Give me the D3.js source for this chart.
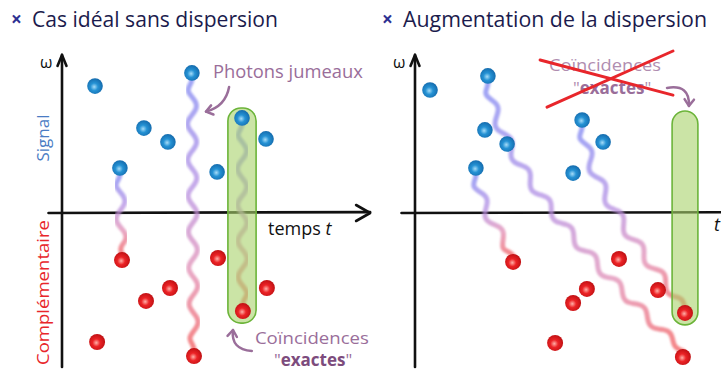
<!DOCTYPE html>
<html>
<head>
<meta charset="utf-8">
<script src="https://cdn.jsdelivr.net/npm/d3@7"></script>
<style>
  body { margin: 0; background: #fff; }
  svg { display: block; }
</style>
</head>
<body>
<div id="chart"></div>
<script>
// photons as [time t, frequency omega]; signal above the axis, complementary below
const leftSignal = [[1.10, 4.23], [4.33, 4.67], [2.73, 2.83], [3.53, 2.37], [1.93, 1.50], [5.17, 1.37], [6.00, 3.17], [6.80, 2.47]];
const leftIdler = [[2.00, -1.57], [5.20, -1.50], [2.80, -2.93], [3.60, -2.50], [6.83, -2.50], [6.03, -3.27], [1.17, -4.30], [4.40, -4.77]];
const rightSignal = [[0.50, 4.10], [2.43, 4.57], [2.33, 2.77], [3.07, 2.30], [2.03, 1.50], [5.27, 1.33], [5.57, 3.10], [6.27, 2.37]];
const rightIdler = [[3.27, -1.63], [6.80, -1.53], [5.73, -2.53], [5.27, -3.00], [8.10, -2.57], [9.00, -3.33], [4.67, -4.33], [8.93, -4.80]];
// twin photons: [signal index, idler index]
const twinPairs = [[4, 0], [1, 7], [6, 5]];
// coincidence window [t0, t1, omegaTop, omegaBottom]
const leftWindow = [5.53, 6.47, 3.50, -3.67];
const rightWindow = [8.57, 9.43, 3.40, -3.73];
const titles = ["Cas idéal sans dispersion", "Augmentation de la dispersion"];

const W = 721, H = 373;
const mauve = "#9a6e9a";

const svg = d3.select("#chart").append("svg")
  .attr("width", W).attr("height", H)
  .style("font-family", "'Open Sans', sans-serif");

const defs = svg.append("defs");
function ball(id, c0, c1, c2) {
  const g = defs.append("radialGradient").attr("id", id)
    .attr("cx", "45%").attr("cy", "55%").attr("r", "60%");
  g.append("stop").attr("offset", "0%").attr("stop-color", c0);
  g.append("stop").attr("offset", "40%").attr("stop-color", c1);
  g.append("stop").attr("offset", "100%").attr("stop-color", c2);
}
ball("blueBall", "#a6dcf8", "#2592d4", "#1266a8");
ball("redBall", "#ffb0a8", "#ec2326", "#b90d10");
defs.append("filter").attr("id", "soft")
  .append("feGaussianBlur").attr("stdDeviation", 1);

const panels = [
  { ox: 62, signal: leftSignal, idler: leftIdler, win: leftWindow, title: titles[0], tx: 32, tlen: 246, xEnd: 10.27 },
  { ox: 415, signal: rightSignal, idler: rightIdler, win: rightWindow, title: titles[1], tx: 403, tlen: 304, xEnd: 11.2 }
];

function wavePath(p0, p1) {
  const c = [p0[0] + (p1[0] - p0[0]) * 0.05, p0[1] + (p1[1] - p0[1]) * 0.35];
  const n = 120, pts = [];
  let len = 0, prev = p0;
  const base = d3.range(n + 1).map(i => {
    const u = i / n;
    const x = (1 - u) * (1 - u) * p0[0] + 2 * u * (1 - u) * c[0] + u * u * p1[0];
    const y = (1 - u) * (1 - u) * p0[1] + 2 * u * (1 - u) * c[1] + u * u * p1[1];
    return [x, y];
  });
  const L = d3.sum(base.slice(1), (p, i) => Math.hypot(p[0] - base[i][0], p[1] - base[i][1]));
  base.forEach((p, i) => {
    if (i > 0) len += Math.hypot(p[0] - prev[0], p[1] - prev[1]);
    const q = base[Math.min(i + 1, n)], r = base[Math.max(i - 1, 0)];
    const dx = q[0] - r[0], dy = q[1] - r[1], d = Math.hypot(dx, dy) || 1;
    const amp = 4.5 * Math.min(1, len / 12, (L - len) / 12);
    const a = amp * Math.sin(2 * Math.PI * len / 36);
    pts.push([p[0] - dy / d * a, p[1] + dx / d * a]);
    prev = p;
  });
  return d3.line().curve(d3.curveBasis)(pts);
}

function curvedArrow(g, x, y, p0, c, p1) {
  const a = [x(p0[0]), y(p0[1])], b = [x(c[0]), y(c[1])], e = [x(p1[0]), y(p1[1])];
  g.append("path")
    .attr("d", `M${a}Q${b} ${e}`)
    .attr("fill", "none").attr("stroke", mauve).attr("stroke-width", 2.5).attr("stroke-linecap", "round");
  const ang = Math.atan2(e[1] - b[1], e[0] - b[0]);
  const hd = [ang + Math.PI * 0.8, ang - Math.PI * 0.8].map(t => [e[0] + 8 * Math.cos(t), e[1] + 8 * Math.sin(t)]);
  g.append("path")
    .attr("d", `M${hd[0]}L${e}L${hd[1]}`)
    .attr("fill", "none").attr("stroke", mauve).attr("stroke-width", 2.5)
    .attr("stroke-linecap", "round").attr("stroke-linejoin", "round");
}

panels.forEach((p, k) => {
  const x = d3.scaleLinear().domain([0, 10]).range([p.ox, p.ox + 300]);
  const y = d3.scaleLinear().domain([-5, 5]).range([363, 63]);
  const g = svg.append("g");

  // title
  g.append("text").attr("x", p.tx - 21).attr("y", 26)
    .attr("font-size", 19).attr("font-weight", "bold").attr("fill", "#2e3192").text("×");
  g.append("text").attr("x", p.tx).attr("y", 27)
    .attr("font-size", 21).attr("fill", "#1b1b4d")
    .attr("textLength", p.tlen).attr("lengthAdjust", "spacingAndGlyphs")
    .text(p.title);

  // axes
  const ax = g.append("g").attr("stroke", "#111").attr("fill", "none")
    .attr("stroke-width", 2.6).attr("stroke-linecap", "round").attr("stroke-linejoin", "round");
  ax.append("line").attr("x1", x(0)).attr("x2", x(0)).attr("y1", y(-5.13)).attr("y2", y(5.27));
  ax.append("path").attr("d", `M${x(0) - 4.5},${y(5.27) + 11}L${x(0)},${y(5.27)}L${x(0) + 4.5},${y(5.27) + 11}`);
  ax.append("line").attr("x1", x(-0.45)).attr("x2", x(p.xEnd)).attr("y1", y(0)).attr("y2", y(0.03));
  ax.append("path").attr("d", `M${x(p.xEnd) - 14},${y(0) - 8}L${x(p.xEnd)},${y(0)}L${x(p.xEnd) - 14},${y(0) + 8}`);

  g.append("text").attr("x", x(0) - 22).attr("y", y(4.85))
    .attr("font-size", 16).attr("fill", "#111").text("ω");

  if (k === 0) {
    g.append("text").attr("transform", `translate(${x(-0.65)},${y(2.5)}) rotate(-90)`)
      .attr("text-anchor", "middle").attr("dominant-baseline", "central")
      .attr("font-size", 17).attr("fill", "#4a7cc4").text("Signal");
    g.append("text").attr("transform", `translate(${x(-0.65)},${y(-2.65)}) rotate(-90)`)
      .attr("text-anchor", "middle").attr("dominant-baseline", "central")
      .attr("font-size", 17).attr("fill", "#e8262b")
      .attr("textLength", 145).attr("lengthAdjust", "spacingAndGlyphs").text("Complémentaire");
    g.append("text").attr("x", x(6.87)).attr("y", y(-0.74))
      .attr("font-size", 18).attr("fill", "#111")
      .text("temps ").append("tspan").attr("font-style", "italic").text("t");
  } else {
    g.append("text").attr("x", x(9.97)).attr("y", y(-0.6))
      .attr("font-size", 18).attr("font-style", "italic").attr("fill", "#111").text("t");
  }

  // twin photon links
  twinPairs.forEach(([si, ii], j) => {
    const s = p.signal[si], r = p.idler[ii];
    const p0 = [x(s[0]), y(s[1]) + 6], p1 = [x(r[0]), y(r[1]) - 6];
    const id = `grad${k}${j}`;
    const lg = defs.append("linearGradient").attr("id", id).attr("gradientUnits", "userSpaceOnUse")
      .attr("x1", p0[0]).attr("y1", p0[1]).attr("x2", p1[0]).attr("y2", p1[1]);
    [[0, "#7f86f2"], [0.4, "#b48ee2"], [0.7, "#e08cb4"], [1, "#f25a5a"]].forEach(([o, c]) =>
      lg.append("stop").attr("offset", o).attr("stop-color", c));
    g.append("path").attr("d", wavePath(p0, p1))
      .attr("fill", "none").attr("stroke", `url(#${id})`)
      .attr("stroke-width", 5).attr("stroke-opacity", 0.75)
      .attr("stroke-linecap", "round").attr("filter", "url(#soft)");
  });

  // coincidence window
  const [w0, w1, wt, wb] = p.win;
  g.append("rect")
    .attr("x", x(w0)).attr("y", y(wt))
    .attr("width", x(w1) - x(w0)).attr("height", y(wb) - y(wt))
    .attr("rx", 13).attr("ry", 13)
    .attr("fill", "#a8d26a").attr("fill-opacity", 0.6)
    .attr("stroke", "#6cb43a").attr("stroke-width", 1.6);

  // photons
  g.selectAll(".sig").data(p.signal).join("circle").attr("class", "sig")
    .attr("cx", d => x(d[0])).attr("cy", d => y(d[1])).attr("r", 7.8)
    .attr("fill", "url(#blueBall)");
  g.selectAll(".idl").data(p.idler).join("circle").attr("class", "idl")
    .attr("cx", d => x(d[0])).attr("cy", d => y(d[1])).attr("r", 8)
    .attr("fill", "url(#redBall)");

  // annotations
  if (k === 0) {
    g.append("text").attr("x", x(5.03)).attr("y", y(4.5))
      .attr("font-size", 18).attr("fill", mauve)
      .attr("textLength", 150).attr("lengthAdjust", "spacingAndGlyphs").text("Photons jumeaux");
    curvedArrow(g, x, y, [5.57, 4.2], [5.45, 3.55], [4.8, 3.38]);
    g.append("text").attr("x", x(6.43)).attr("y", y(-4.37))
      .attr("font-size", 17).attr("fill", mauve)
      .attr("textLength", 114).attr("lengthAdjust", "spacingAndGlyphs").text("Coïncidences");
    const ex = g.append("text").attr("x", x(8.37)).attr("y", y(-5.1))
      .attr("text-anchor", "middle").attr("font-size", 17).attr("fill", mauve);
    ex.append("tspan").text("\"");
    ex.append("tspan").attr("font-weight", "bold").attr("fill", "#7d4c7d").text("exactes");
    ex.append("tspan").text("\"");
    curvedArrow(g, x, y, [6.33, -4.6], [5.62, -4.55], [5.7, -3.9]);
  } else {
    g.append("text").attr("x", x(6.33)).attr("y", y(4.74))
      .attr("text-anchor", "middle").attr("font-size", 17).attr("fill", "#b08db0")
      .attr("textLength", 112).attr("lengthAdjust", "spacingAndGlyphs").text("Coïncidences");
    const ex = g.append("text").attr("x", x(6.57)).attr("y", y(3.98))
      .attr("text-anchor", "middle").attr("font-size", 17).attr("fill", "#b08db0");
    ex.append("tspan").text("\"");
    ex.append("tspan").attr("font-weight", "bold").attr("fill", "#9a6e9a").text("exactes");
    ex.append("tspan").text("\"");
    const cross = g.append("g").attr("stroke", "#e8262b").attr("stroke-width", 3).attr("stroke-linecap", "round");
    cross.append("line").attr("x1", x(4.17)).attr("y1", y(5.1)).attr("x2", x(8.6)).attr("y2", y(3.93));
    cross.append("line").attr("x1", x(4.4)).attr("y1", y(3.53)).attr("x2", x(8.6)).attr("y2", y(5.4));
    curvedArrow(g, x, y, [8.4, 4.17], [9.17, 4.3], [9.13, 3.57]);
  }
});
</script>
</body>
</html>
